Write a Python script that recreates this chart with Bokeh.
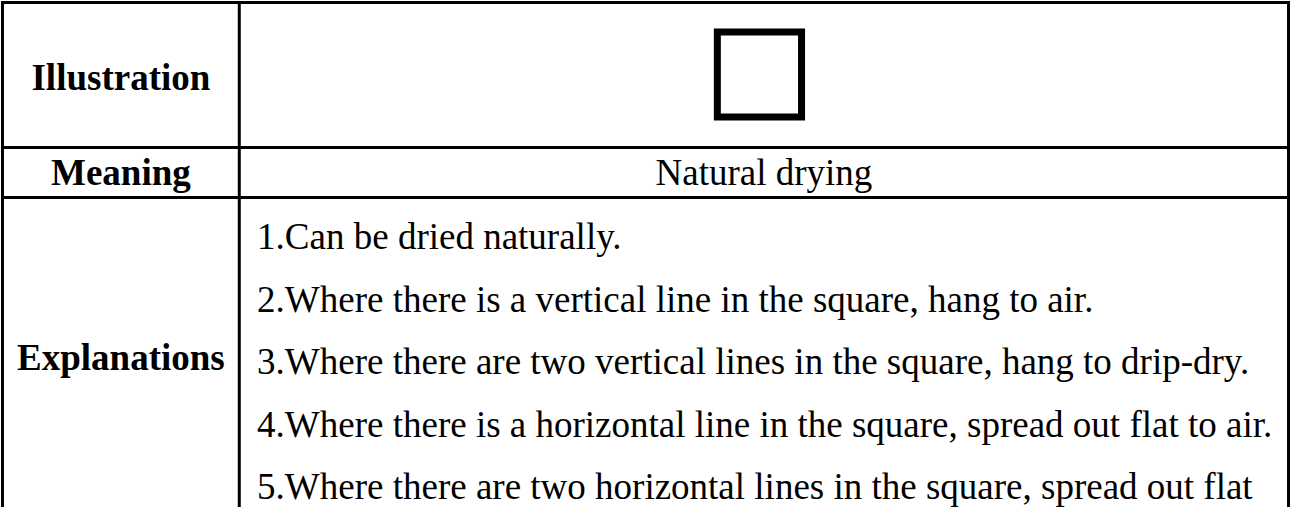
from bokeh.plotting import figure
from bokeh.models import Range1d, ColumnDataSource
from bokeh.core.properties import value
from bokeh.embed import file_html
from bokeh.resources import INLINE

# ---- content ----
row_labels = ["Illustration", "Meaning", "Explanations"]
meaning_text = ["Natural drying"]
explanations = [
    "1.Can be dried naturally.",
    "2.Where there is a vertical line in the square, hang to air.",
    "3.Where there are two vertical lines in the square, hang to drip-dry.",
    "4.Where there is a horizontal line in the square, spread out flat to air.",
    "5.Where there are two horizontal lines in the square, spread out flat",
]

# ---- layout (reference pixel coordinates) ----
T_LEFT, T_RIGHT, T_TOP, T_BOTTOM = 5, 1303, 10, 530
DIV_X = 244
ROW_BOUNDS = [10, 155, 205, 530]
FONT = "Liberation Serif"
FS = "37px"
DY = -12  # baseline correction
LINE_STEP = 62.5

p = figure(width=1290, height=507, output_backend="svg", toolbar_location=None,
           x_range=Range1d(3, 1305), y_range=Range1d(515, 8),
           min_border=0, outline_line_color=None, background_fill_color="white",
           border_fill_color="white")
p.axis.visible = False
p.grid.visible = False

# table lines
p.segment(x0=[T_LEFT - 1.5] * 3, x1=[T_RIGHT + 1.5] * 3,
          y0=ROW_BOUNDS[:3], y1=ROW_BOUNDS[:3], line_color="black", line_width=3)
p.segment(x0=[T_LEFT, DIV_X, T_RIGHT], x1=[T_LEFT, DIV_X, T_RIGHT],
          y0=[T_TOP] * 3, y1=[T_BOTTOM] * 3, line_color="black", line_width=3)

# illustration: square symbol
cx = (DIV_X + T_RIGHT) / 2 - 4.5
p.rect(x=[cx], y=[82], width=85, height=85, fill_color="white",
       line_color="black", line_width=7, line_join="miter")

# left column labels
label_y = [97 + DY, 192 + DY, 377 + DY]
lab_src = ColumnDataSource(dict(x=[(T_LEFT + DIV_X) / 2] * 3, y=label_y, t=row_labels))
p.text(x="x", y="y", text="t", source=lab_src, text_font=value(FONT),
       text_font_style="bold", text_font_size=FS, text_align="center",
       text_baseline="alphabetic", text_color="black")

# meaning
p.text(x=[(DIV_X + T_RIGHT) / 2], y=[192 + DY], text=meaning_text, text_font=value(FONT),
       text_font_size=FS, text_align="center", text_baseline="alphabetic",
       text_color="black")

# explanations
ex_y = [256 + DY + LINE_STEP * i for i in range(len(explanations))]
ex_src = ColumnDataSource(dict(x=[262] * len(explanations), y=ex_y, t=explanations))
p.text(x="x", y="y", text="t", source=ex_src, text_font=value(FONT),
       text_font_size=FS, text_align="left", text_baseline="alphabetic",
       text_color="black")

open("out.html", "w").write(file_html(p, INLINE))
